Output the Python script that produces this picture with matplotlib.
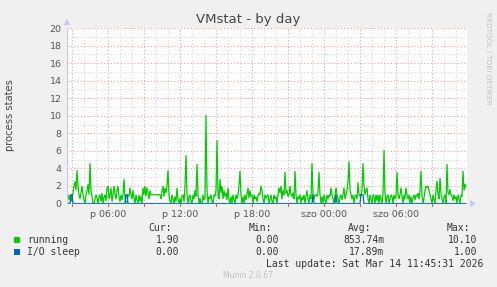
import matplotlib
matplotlib.use("Agg")
import matplotlib.pyplot as plt
from matplotlib.lines import Line2D
from matplotlib.patches import Polygon, Rectangle
import numpy as np

# ---------------- data ----------------
start_hour = 2 + 35 / 60.0      # Friday 02:35
step_hours = 5 / 60.0           # 5-minute samples

running = [
    1.0, 1.0, 0.4, 1.0, 0.2, 0.6, 1.2, 2.0, 2.5, 1.5,
    3.8, 2.0, 1.0, 0.5, 1.2, 2.0, 1.0, 0.4, 0.0, 1.0,
    1.5, 2.2, 1.0, 4.6, 1.5, 0.8, 0.0, 0.0, 0.5, 1.0,
    0.6, 0.0, 0.8, 1.0, 0.2, 1.2, 0.0, 0.7, 1.0, 0.3,
    1.8, 2.0, 0.5, 1.0, 1.8, 0.2, 1.0, 2.0, 1.0, 0.5,
    1.5, 2.0, 0.8, 0.2, 1.0, 0.4, 1.0, 2.8, 0.6, 0.0,
    0.0, 1.0, 0.8, 1.8, 1.0, 0.5, 1.5, 0.6, 0.0, 1.0,
    0.4, 0.0, 1.0, 0.2, 0.8, 0.0, 1.8, 1.0, 2.0, 0.8,
    1.8, 1.2, 0.5, 1.5, 1.0, 1.0, 1.0, 1.0, 1.0, 1.0,
    1.0, 1.0, 1.0, 1.0, 0.5, 1.5, 2.0, 0.8, 1.8, 1.2,
    2.0, 3.8, 1.0, 0.3, 0.0, 1.0, 0.5, 0.0, 0.8, 0.2,
    1.8, 0.5, 0.0, 0.6, 0.0, 0.8, 1.0, 0.2, 2.0, 5.5,
    1.0, 0.0, 0.8, 1.0, 0.2, 0.0, 1.0, 0.5, 1.5, 0.8,
    4.5, 1.0, 0.0, 0.6, 0.0, 0.0, 1.0, 0.4, 0.6, 10.1,
    1.5, 0.0, 0.8, 0.5, 1.0, 0.2, 0.0, 1.0, 0.8, 1.5,
    7.2, 1.0, 0.5, 2.8, 1.2, 2.0, 0.5, 1.5, 0.8, 1.2,
    0.4, 1.8, 0.5, 0.0, 0.8, 0.0, 1.0, 0.4, 0.0, 1.0,
    0.5, 1.0, 2.0, 3.7, 1.0, 0.0, 0.8, 0.0, 1.0, 0.4,
    1.0, 1.8, 0.6, 1.5, 0.8, 1.0, 0.0, 1.0, 0.5, 0.8,
    0.2, 0.8, 1.2, 1.0, 2.0, 1.5, 0.5, 0.0, 1.0, 0.6,
    0.8, 1.0, 0.0, 0.6, 1.0, 0.2, 0.0, 1.0, 0.5, 0.8,
    0.0, 1.0, 1.8, 1.2, 2.0, 0.5, 1.5, 1.0, 3.6, 1.2,
    1.5, 0.8, 1.0, 2.0, 1.0, 0.8, 1.2, 0.5, 3.7, 1.0,
    0.0, 0.8, 0.5, 1.0, 0.0, 0.8, 0.4, 1.0, 0.0, 0.8,
    1.5, 0.5, 0.0, 1.0, 0.5, 4.6, 1.0, 0.5, 1.0, 1.0,
    0.8, 1.2, 3.6, 1.0, 0.0, 0.8, 0.0, 1.0, 0.4, 0.0,
    1.0, 0.5, 1.0, 0.8, 1.8, 1.0, 0.5, 0.0, 1.0, 1.8,
    1.0, 0.5, 0.0, 0.8, 1.0, 0.4, 1.0, 1.8, 0.5, 1.0,
    1.5, 2.5, 4.8, 1.5, 1.0, 0.5, 1.0, 0.0, 0.8, 1.0,
    0.5, 2.4, 1.0, 0.8, 1.0, 1.5, 4.6, 2.0, 1.0, 1.5,
    1.8, 0.5, 0.0, 1.0, 0.5, 0.0, 1.0, 0.8, 0.0, 1.0,
    0.3, 1.0, 0.0, 1.0, 0.5, 0.0, 1.0, 6.1, 1.2, 0.0,
    0.8, 1.0, 0.0, 0.5, 1.0, 0.8, 0.0, 1.0, 0.5, 0.8,
    3.6, 1.0, 0.5, 1.0, 1.8, 0.8, 0.0, 1.0, 0.5, 1.8,
    1.0, 0.5, 1.0, 0.0, 0.8, 0.0, 0.6, 1.0, 0.4, 1.0,
    0.8, 1.2, 0.5, 1.5, 3.7, 1.0, 0.0, 0.6, 1.5, 2.0,
    1.8, 2.0, 1.5, 1.0, 0.5, 0.0, 1.0, 0.4, 0.0, 1.5,
    2.6, 1.0, 0.5, 2.9, 1.2, 0.5, 0.0, 0.8, 1.0, 0.0,
    4.5, 1.2, 1.0, 1.6, 1.0, 0.8, 0.3, 1.0, 0.5, 0.8,
    0.0, 1.0, 0.5, 0.0, 1.0, 0.8, 3.7, 1.5, 2.2, 1.9,
]

io_sleep = [
    0, 0, 0, 0, 1, 1, 0, 0, 0, 0, 0, 0, 0, 0, 0, 0, 0, 0, 0, 0,
    0, 0, 0, 0, 0, 0, 0, 0, 0, 0, 0, 0, 0, 0, 0, 0, 0, 0, 0, 0,
    0, 0, 0, 0, 0, 0, 0, 0, 0, 0, 0, 0, 0, 0, 0, 0, 0, 0, 0, 1,
    1, 0, 0, 0, 0, 0, 0, 0, 0, 0, 0, 0, 0, 0, 0, 0, 0, 0, 0, 0,
    0, 0, 0, 0, 0, 0, 0, 0, 0, 0, 0, 0, 0, 0, 0, 0, 0, 0, 0, 0,
    0, 0, 0, 0, 0, 0, 0, 0, 0, 0, 0, 0, 0, 0, 0, 0, 0, 0, 0, 0,
    0, 0, 0, 0, 0, 0, 0, 0, 0, 0, 0, 0, 0, 0, 0, 0, 0, 0, 0, 0,
    0, 0, 0, 0, 0, 0, 0, 0, 0, 0, 0, 0, 0, 0, 0, 0, 0, 0, 0, 0,
    0, 0, 0, 0, 0, 0, 0, 0, 0, 0, 0, 0, 0, 0, 0, 0, 0, 0, 0, 0,
    0, 0, 0, 0, 0, 0, 0, 0, 0, 0, 0, 0, 0, 0, 0, 0, 0, 0, 0, 0,
    0, 0, 0, 0, 0, 0, 0, 0, 0, 0, 0, 0, 0, 0, 0, 0, 0, 0, 0, 0,
    0, 0, 0, 0, 0, 0, 0, 0, 0, 0, 0, 0, 0, 0, 0, 0, 0, 0, 0, 0,
    0, 0, 0, 0, 0, 0, 1, 0, 0, 0, 0, 0, 0, 0, 0, 0, 0, 0, 0, 0,
    0, 0, 0, 0, 0, 0, 0, 0, 0, 1, 0, 0, 0, 0, 0, 0, 0, 0, 0, 0,
    0, 0, 0, 0, 0, 0, 0, 0, 0, 0, 0, 0, 0, 0, 1, 1, 1, 0, 0, 0,
    0, 0, 0, 0, 0, 0, 0, 0, 0, 0, 0, 0, 0, 0, 0, 0, 0, 0, 0, 0,
    0, 0, 0, 0, 0, 0, 0, 0, 0, 0, 0, 0, 0, 0, 0, 0, 0, 0, 0, 0,
    0, 0, 0, 0, 0, 0, 0, 0, 0, 0, 0, 0, 0, 0, 0, 0, 0, 0, 0, 0,
    0, 0, 0, 0, 0, 0, 0, 0, 0, 0, 0, 0, 0, 0, 0, 0, 0, 0, 0, 0,
    0, 0, 0, 0, 0, 0, 0, 0, 0, 0, 0, 0, 0, 0, 0, 0, 0, 0, 0, 0,
]

x_ticks = [6, 12, 18, 24, 30]
x_tick_labels = ["p 06:00", "p 12:00", "p 18:00", "szo 00:00", "szo 06:00"]
y_ticks = [0, 2, 4, 6, 8, 10, 12, 14, 16, 18, 20]

series_names = ["running", "I/O sleep"]
series_colors = ["#00CC00", "#0066B3"]
stat_cur = ["1.90", "0.00"]
stat_min = ["0.00", "0.00"]
stat_avg = ["853.74m", "17.89m"]
stat_max = ["10.10", "1.00"]

# ---------------- figure ----------------
W, H = 497, 287
fig = plt.figure(figsize=(W / 100, H / 100), dpi=100, facecolor="#F0F0F0")

px_l, px_r, px_t, px_b = 67, 467, 28, 203.5
ax = fig.add_axes([px_l / W, 1 - px_b / H, (px_r - px_l) / W, (px_b - px_t) / H])
ax.set_facecolor("white")

t = start_hour + np.arange(len(running)) * step_hours
x0 = start_hour
x1 = start_hour + len(running) * step_hours
ax.set_xlim(x0, x1)
ax.set_ylim(0, 20)

dot = (0, (1, 2))
# vertical grid
for h in range(3, 36):
    if h % 3 == 0:
        ax.axvline(h, color="#E8A0A0", lw=0.8, ls=dot, zorder=1)
    else:
        ax.axvline(h, color="#D4D4D4", lw=0.8, ls=dot, zorder=1)
# horizontal grid
for v in range(1, 21):
    if v % 2 == 0:
        ax.axhline(v, color="#E8A0A0", lw=0.8, ls=dot, zorder=1)
    else:
        ax.axhline(v, color="#D4D4D4", lw=0.8, ls=dot, zorder=1)

ax.plot(t, running, color=series_colors[0], lw=0.9, zorder=3, solid_joinstyle="miter")
ax.plot(t, io_sleep, color=series_colors[1], lw=0.9, zorder=4)

for s in ax.spines.values():
    s.set_visible(False)
ax.axhline(0, color="#B8B8F0", lw=1.0, zorder=5)
ax.axvline(x0, color="#C8C8F0", lw=1.0, zorder=5)

ax.set_xticks(x_ticks)
ax.set_xticklabels(x_tick_labels)
ax.set_yticks(y_ticks)
ax.tick_params(axis="both", length=0, labelsize=6.8, labelcolor="#555555")
ax.tick_params(axis="x", pad=5)
ax.tick_params(axis="y", pad=4)
# small red ticks below axis at major grid
for h in range(3, 36, 3):
    ax.plot([h, h], [0, -0.25], color="#E06060", lw=0.8, clip_on=False, zorder=6)

# arrows
fig.patches.append(Polygon([[(px_l - 3.5) / W, 1 - 25 / H], [(px_l + 3.5) / W, 1 - 25 / H],
                            [px_l / W, 1 - 19 / H]], closed=True,
                           transform=fig.transFigure, facecolor="#C8C8F0", edgecolor="none"))
fig.patches.append(Polygon([[(px_r + 3) / W, 1 - (px_b - 3.5) / H], [(px_r + 3) / W, 1 - (px_b + 3.5) / H],
                            [(px_r + 9) / W, 1 - px_b / H]], closed=True,
                           transform=fig.transFigure, facecolor="#C8C8F0", edgecolor="none"))

# title & labels
fig.text(248 / W, 1 - 19 / H, "VMstat - by day", ha="center", va="center",
         fontsize=9.5, color="#444444")
fig.text(10 / W, 1 - 115 / H, "process states", rotation=90, ha="center", va="center",
         fontsize=7.2, color="#444444")
fig.text(488 / W, 1 - 58 / H, "RRDTOOL / TOBI OETIKER", rotation=270, ha="center", va="center",
         fontsize=5.2, color="#C0C0C0")

# legend
mono = "DejaVu Sans Mono"
fs = 7.0
tc = "#333333"
def ftxt(x, y, s, ha="left", **kw):
    fig.text(x / W, 1 - y / H, s, ha=ha, va="center", fontsize=fs, family=mono, color=tc, **kw)

ftxt(172, 228, "Cur:", ha="right")
ftxt(272, 228, "Min:", ha="right")
ftxt(371, 228, "Avg:", ha="right")
ftxt(470, 228, "Max:", ha="right")
rows_y = [240, 252]
for k in range(2):
    y = rows_y[k]
    fig.patches.append(Rectangle((14 / W, 1 - (y + 3) / H), 6 / W, 6 / H,
                                 transform=fig.transFigure, facecolor=series_colors[k],
                                 edgecolor="none"))
    ftxt(27, y, series_names[k])
    ftxt(179, y, stat_cur[k], ha="right")
    ftxt(279, y, stat_min[k], ha="right")
    ftxt(384, y, stat_avg[k], ha="right")
    ftxt(477, y, stat_max[k], ha="right")
ftxt(483, 264, "Last update: Sat Mar 14 11:45:31 2026", ha="right")
fig.text(248 / W, 1 - 276 / H, "Munin 2.0.67", ha="center", va="center",
         fontsize=5.5, color="#C0C0C0")

fig.savefig("out.png", dpi=100, facecolor=fig.get_facecolor())
